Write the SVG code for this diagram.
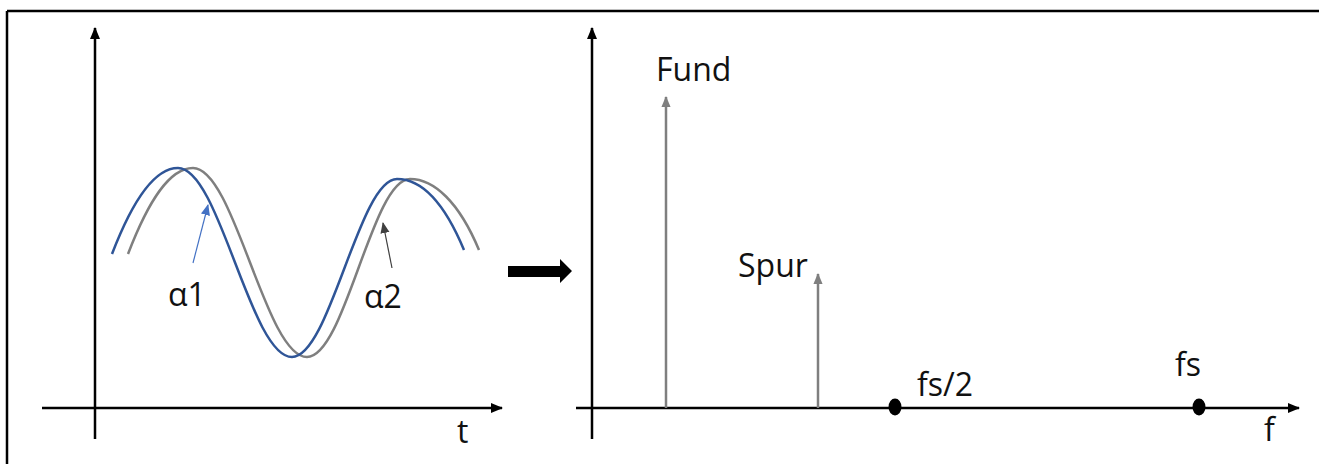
<svg xmlns="http://www.w3.org/2000/svg" width="1319" height="464" viewBox="0 0 1319 464">
<style>
.ax{stroke:#000;stroke-width:2.5;fill:none}
.lbl{font-family:"Open Sans","DejaVu Sans",sans-serif;font-size:32px;fill:#111}
.wave{fill:none;stroke-width:2.5}
</style>
<defs>
<marker id="ah" viewBox="0 0 12 10" refX="11" refY="5" markerWidth="12" markerHeight="10" markerUnits="userSpaceOnUse" orient="auto"><path d="M0,0 L12,5 L0,10 Z" fill="#000"/></marker>
<marker id="ag" viewBox="0 0 12 10" refX="11" refY="5" markerWidth="11" markerHeight="10" markerUnits="userSpaceOnUse" orient="auto"><path d="M0,0 L12,5 L0,10 Z" fill="#7f7f7f"/></marker>
<marker id="ab" viewBox="0 0 12 10" refX="11" refY="5" markerWidth="11" markerHeight="10" markerUnits="userSpaceOnUse" orient="auto"><path d="M0,0 L12,5 L0,10 Z" fill="#4472c4"/></marker>
<marker id="ad" viewBox="0 0 12 10" refX="11" refY="5" markerWidth="11" markerHeight="10" markerUnits="userSpaceOnUse" orient="auto"><path d="M0,0 L12,5 L0,10 Z" fill="#404040"/></marker>
</defs>
<rect width="1319" height="464" fill="#fff"/>
<g id="frame">
<line x1="7" y1="11" x2="1319" y2="11" stroke="#000" stroke-width="2.5"/>
<line x1="7" y1="11" x2="7" y2="464" stroke="#000" stroke-width="2.5"/>
</g>
<g id="time-axes">
<line class="ax" x1="95" y1="439" x2="95" y2="28" marker-end="url(#ah)"/>
<line class="ax" x1="42" y1="408" x2="502" y2="408" marker-end="url(#ah)"/>
<text class="lbl" x="457" y="443">t</text>
</g>
<g id="waves">
<path class="wave" stroke="#7f7f7f" d="M128,254 C148,202 169,168 193,168 C234.5,168 265.5,357 307,357 C345,357 372,179 410,179 C434,179 459,202 479,250"/>
<path class="wave" stroke="#2f5597" d="M112,254 C132,202 154,168 178,168 C219.5,168 250.5,357 292,357 C330,357 359,179 397,179 C421,179 444,202 464,250"/>
</g>
<g id="alpha1">
<line x1="193" y1="263" x2="208" y2="205" stroke="#4472c4" stroke-width="1.2" marker-end="url(#ab)"/>
<text class="lbl" x="168" y="306">α1</text>
</g>
<g id="alpha2">
<line x1="392" y1="268" x2="383" y2="223" stroke="#404040" stroke-width="1.2" marker-end="url(#ad)"/>
<text class="lbl" x="364" y="308">α2</text>
</g>
<g id="block-arrow">
<path d="M508,266 L560,266 L560,259 L572,271 L560,283 L560,277 L508,277 Z" fill="#000"/>
</g>
<g id="freq-axes">
<line class="ax" x1="592" y1="439" x2="592" y2="28" marker-end="url(#ah)"/>
<line class="ax" x1="576" y1="408" x2="1299" y2="408" marker-end="url(#ah)"/>
<text class="lbl" x="1264" y="441">f</text>
</g>
<g id="fund">
<line x1="666" y1="408" x2="666" y2="97" stroke="#7f7f7f" stroke-width="2.5" marker-end="url(#ag)"/>
<text class="lbl" x="656" y="81">Fund</text>
</g>
<g id="spur">
<line x1="818" y1="408" x2="818" y2="274" stroke="#7f7f7f" stroke-width="2.5" marker-end="url(#ag)"/>
<text class="lbl" x="738" y="277">Spur</text>
</g>
<g id="fs2">
<ellipse cx="895" cy="407" rx="6.5" ry="8.5" fill="#000"/>
<text class="lbl" x="917" y="396">fs/2</text>
</g>
<g id="fs">
<ellipse cx="1199" cy="407" rx="6.5" ry="8.5" fill="#000"/>
<text class="lbl" x="1175" y="376">fs</text>
</g>
</svg>
